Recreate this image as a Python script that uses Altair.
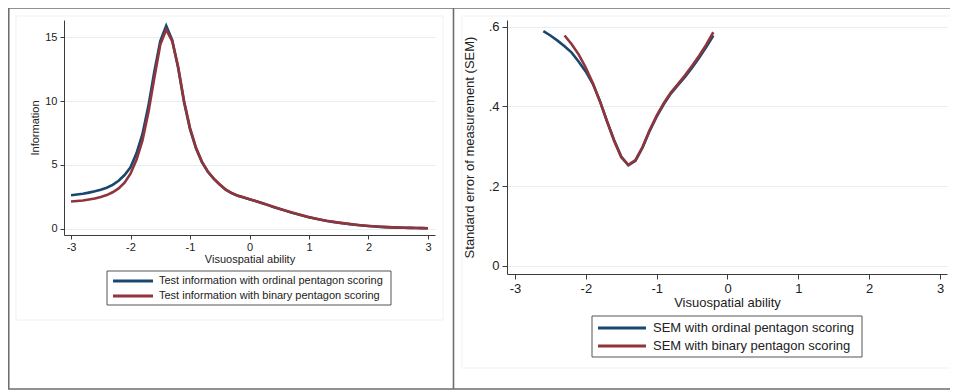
import altair as alt
import pandas as pd

# ---------------- data ----------------
theta_info = [-3.0, -2.9, -2.8, -2.7, -2.6, -2.5, -2.4, -2.3, -2.2, -2.1, -2.0, -1.9, -1.8,
              -1.7, -1.6, -1.5, -1.4, -1.3, -1.2, -1.1, -1.0, -0.9, -0.8, -0.7, -0.6, -0.5,
              -0.4, -0.3, -0.2, -0.1, 0.0, 0.1, 0.2, 0.3, 0.4, 0.5, 0.6, 0.7, 0.8, 0.9, 1.0,
              1.1, 1.2, 1.3, 1.4, 1.5, 1.6, 1.7, 1.8, 1.9, 2.0, 2.1, 2.2, 2.3, 2.4, 2.5,
              2.6, 2.7, 2.8, 2.9, 3.0]
info_ordinal = [2.62, 2.67, 2.73, 2.82, 2.92, 3.05, 3.2, 3.43, 3.75, 4.2, 4.8, 5.9, 7.4,
                9.6, 12.3, 14.7, 15.9, 14.8, 12.6, 9.9, 7.8, 6.3, 5.2, 4.45, 3.9, 3.45,
                3.05, 2.78, 2.58, 2.44, 2.3, 2.16, 2.01, 1.86, 1.7, 1.55, 1.41, 1.27, 1.14,
                1.01, 0.89, 0.79, 0.69, 0.6, 0.53, 0.46, 0.4, 0.34, 0.29, 0.24, 0.2, 0.17,
                0.14, 0.12, 0.1, 0.08, 0.065, 0.055, 0.045, 0.035, 0.03]
info_binary = [2.12, 2.16, 2.21, 2.28, 2.36, 2.48, 2.63, 2.85, 3.15, 3.6, 4.3, 5.4, 6.9,
               9.1, 11.8, 14.4, 15.6, 14.7, 12.7, 10.0, 7.9, 6.35, 5.25, 4.48, 3.92, 3.46,
               3.06, 2.79, 2.59, 2.45, 2.31, 2.17, 2.02, 1.87, 1.71, 1.56, 1.42, 1.28, 1.15,
               1.02, 0.9, 0.8, 0.7, 0.61, 0.54, 0.47, 0.41, 0.35, 0.3, 0.25, 0.21, 0.18,
               0.15, 0.12, 0.1, 0.08, 0.065, 0.055, 0.045, 0.035, 0.03]

theta_sem_ordinal = [-2.6, -2.5, -2.4, -2.3, -2.2, -2.1, -2.0, -1.9, -1.8, -1.7, -1.6, -1.5,
                     -1.4, -1.3, -1.2, -1.1, -1.0, -0.9, -0.8, -0.7, -0.6, -0.5, -0.4,
                     -0.3, -0.2]
sem_ordinal = [0.589, 0.578, 0.565, 0.551, 0.535, 0.512, 0.487, 0.456, 0.413, 0.362, 0.315,
               0.274, 0.252, 0.263, 0.296, 0.338, 0.374, 0.405, 0.432, 0.453, 0.474, 0.497,
               0.522, 0.549, 0.578]
theta_sem_binary = [-2.3, -2.2, -2.1, -2.0, -1.9, -1.8, -1.7, -1.6, -1.5, -1.4, -1.3, -1.2,
                    -1.1, -1.0, -0.9, -0.8, -0.7, -0.6, -0.5, -0.4, -0.3, -0.2]
sem_binary = [0.578, 0.556, 0.530, 0.497, 0.458, 0.412, 0.362, 0.313, 0.272, 0.253, 0.265,
              0.298, 0.340, 0.377, 0.408, 0.435, 0.456, 0.478, 0.502, 0.527, 0.555, 0.586]

series_info = ["Test information with ordinal pentagon scoring",
               "Test information with binary pentagon scoring"]
series_sem = ["SEM with ordinal pentagon scoring",
              "SEM with binary pentagon scoring"]
colors = ["#1a476f", "#90353b"]

x_ticks = [-3, -2, -1, 0, 1, 2, 3]
info_ticks = [0, 5, 10, 15]
sem_ticks = [0, 0.2, 0.4, 0.6]

df_info = pd.DataFrame({
    "theta": theta_info + theta_info,
    "value": info_ordinal + info_binary,
    "series": [series_info[0]] * len(theta_info) + [series_info[1]] * len(theta_info),
})
df_sem = pd.DataFrame({
    "theta": theta_sem_ordinal + theta_sem_binary,
    "value": sem_ordinal + sem_binary,
    "series": [series_sem[0]] * len(theta_sem_ordinal) + [series_sem[1]] * len(theta_sem_binary),
})

# ---------------- layout ----------------
W, H = 942, 383
FONT = "Liberation Sans"
AX = "#3c3c3c"
GRID = "#e6eef0"

one = pd.DataFrame({"k": [0]})


def box(x1, x2, y1, y2, stroke, fill="none", sw=1.0):
    return alt.Chart(one).mark_rect(stroke=stroke, fill=fill, strokeWidth=sw).encode(
        x=alt.value(x1), x2=alt.value(x2), y=alt.value(y1), y2=alt.value(y2))


frame = box(0.75, W + 10, 0.0, 381, "#6e6e6e", sw=1.6)
sep = alt.Chart(one).mark_rule(color="#6e6e6e", strokeWidth=1.6).encode(
    x=alt.value(445.5), y=alt.value(0), y2=alt.value(381))
region_l = box(8, 435, 8, 312, "#f1f1f1")
region_r = box(454, W + 10, 8, 360, "#f1f1f1")
legbox_l = box(99, 383, 263, 297, "#555555", fill="#ffffff", sw=1)
legbox_r = box(584, 854, 308, 349, "#555555", fill="#ffffff", sw=1)

left = alt.Chart(df_info).mark_line(strokeWidth=2.6).encode(
    x=alt.X("theta:Q",
            scale=alt.Scale(domain=[-3.118, 3.118], range=[56, 427], nice=False, zero=False),
            axis=alt.Axis(title="Visuospatial ability", values=x_ticks, orient="bottom",
                          offset=227 - H, grid=False, labelExpr="'' + datum.value",
                          labelFontSize=11, titleFontSize=11, tickSize=4, labelPadding=2,
                          titlePadding=1)),
    y=alt.Y("value:Q",
            scale=alt.Scale(domain=[-0.5, 16.35], range=[227, 12], nice=False, zero=False),
            axis=alt.Axis(title="Information", values=info_ticks, orient="left",
                          offset=-56, grid=True, gridColor=GRID, gridWidth=1.2,
                          labelFontSize=11, titleFontSize=11, tickSize=4, labelPadding=3,
                          titlePadding=4)),
    color=alt.Color("series:N", scale=alt.Scale(domain=series_info, range=colors),
                    legend=alt.Legend(orient="none", legendX=103.5, legendY=265.5, title=None,
                                      symbolType="stroke", symbolSize=1600, symbolStrokeWidth=3,
                                      clipHeight=15, rowPadding=0, padding=0, labelOffset=4.5,
                                      labelFontSize=11, labelFont=FONT, labelColor="#222222",
                                      labelLimit=400)),
)

right = alt.Chart(df_sem).mark_line(strokeWidth=2.6).encode(
    x=alt.X("theta:Q",
            scale=alt.Scale(domain=[-3.113, 3.099], range=[499, 939], nice=False, zero=False),
            axis=alt.Axis(title="Visuospatial ability", values=x_ticks, orient="bottom",
                          offset=266 - H, grid=False, labelExpr="'' + datum.value",
                          labelFontSize=13, titleFontSize=13, tickSize=5, labelPadding=3,
                          titlePadding=1)),
    y=alt.Y("value:Q",
            scale=alt.Scale(domain=[-0.0208, 0.6168], range=[266, 12], nice=False, zero=False),
            axis=alt.Axis(title="Standard error of measurement (SEM)", values=sem_ticks,
                          orient="left", offset=-499, grid=True, gridColor=GRID, gridWidth=1.2,
                          labelExpr="datum.value == 0 ? '0' : substring(format(datum.value, '.1f'), 1)",
                          labelFontSize=13, titleFontSize=13, tickSize=5, labelPadding=3,
                          titlePadding=12)),
    color=alt.Color("series:N", scale=alt.Scale(domain=series_sem, range=colors),
                    legend=alt.Legend(orient="none", legendX=588.5, legendY=311, title=None,
                                      symbolType="stroke", symbolSize=2304, symbolStrokeWidth=3,
                                      clipHeight=18, rowPadding=0, padding=0, labelOffset=5.5,
                                      labelFontSize=13, labelFont=FONT, labelColor="#222222",
                                      labelLimit=400)),
)

chart = alt.layer(
    region_l, region_r, frame, sep, legbox_l, legbox_r, left, right
).resolve_scale(
    x="independent", y="independent", color="independent"
).properties(
    width=W, height=H, padding=0,
    autosize=alt.AutoSizeParams(type="none"),
    background="white",
).configure_view(
    stroke=None
).configure_axis(
    labelFont=FONT, titleFont=FONT, titleFontWeight="normal",
    labelColor="#222222", titleColor="#222222",
    domainColor=AX, tickColor=AX, domainWidth=1, tickWidth=1, labelAngle=0,
)

chart.save("out.html", embed_options={"renderer": "svg", "actions": False})
